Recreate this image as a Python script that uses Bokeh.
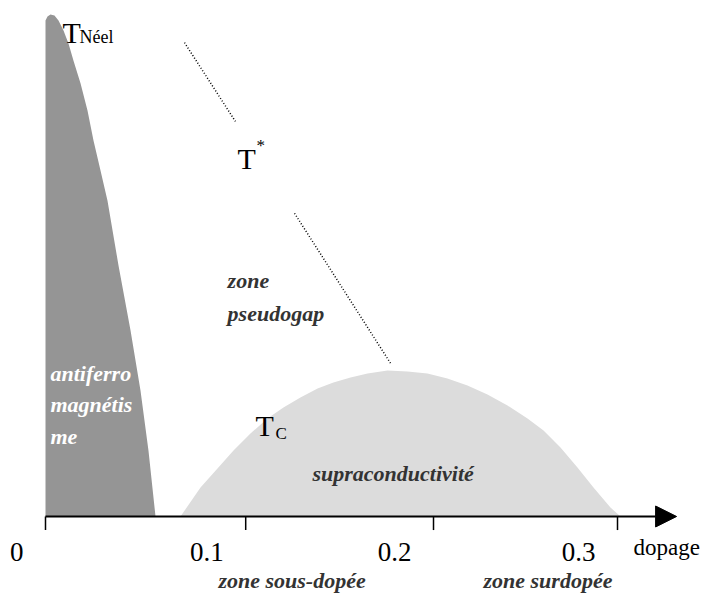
from bokeh.plotting import figure
from bokeh.models import Arrow, NormalHead
from bokeh.core.properties import value
from bokeh.embed import file_html
from bokeh.resources import INLINE

# --- data (x = dopage, y = temperature, relative units) ---
afm_x = [0, 0, 0.00105, 0.00262, 0.0047, 0.00682, 0.00944, 0.01206, 0.01469, 0.01836,
         0.02203, 0.02517, 0.02885, 0.03252, 0.03829, 0.04458, 0.04982, 0.05402, 0.0577]
afm_y = [0, 0.988, 0.996, 1.0, 0.998, 0.988, 0.968, 0.942, 0.908, 0.863,
         0.809, 0.749, 0.689, 0.629, 0.500, 0.371, 0.251, 0.131, 0]

sc_x = [0.0708, 0.0813, 0.0902, 0.0986, 0.1075, 0.1164, 0.1248, 0.1337, 0.1427, 0.1510,
        0.1600, 0.1689, 0.1794, 0.1899, 0.2003, 0.2108, 0.2213, 0.2318, 0.2423, 0.2528,
        0.2612, 0.2701, 0.2790, 0.2874, 0.2963, 0.3016]
sc_y = [0, 0.0578, 0.0956, 0.1315, 0.1653, 0.1952, 0.2171, 0.2371, 0.2550, 0.2669,
        0.2769, 0.2849, 0.2908, 0.2888, 0.2849, 0.2749, 0.2610, 0.2430, 0.2211, 0.1952,
        0.1713, 0.1375, 0.0976, 0.0578, 0.0179, 0]

tstar_x0 = [0.0729, 0.1306]
tstar_y0 = [0.944, 0.604]
tstar_x1 = [0.0996, 0.181]
tstar_y1 = [0.787, 0.305]

tick_positions = [0, 0.105, 0.2035, 0.3]
tick_labels = ["0", "0.1", "0.2", "0.3"]
axis_end = 0.331

afm_lines = ["antiferro", "magnétis", "me"]
afm_line_y = [0.2849, 0.2231, 0.1594]

SERIF = value("'Liberation Serif', serif")
DARK = "#959595"
LIGHT = "#dcdcdc"
TXT = "#333333"

p = figure(width=707, height=594, x_range=(-0.023601, 0.347202),
           y_range=(-0.15538, 1.02789), output_backend="svg",
           toolbar_location=None, min_border=0)
p.axis.visible = False
p.grid.visible = False
p.outline_line_color = None
p.background_fill_color = "white"
p.border_fill_color = "white"

# regions
p.patch(afm_x, afm_y, fill_color=DARK, line_color=None)
p.patch(sc_x, sc_y, fill_color=LIGHT, line_color=None)

# T* dotted line
p.segment(x0=tstar_x0, y0=tstar_y0, x1=tstar_x1, y1=tstar_y1,
          line_color="black", line_width=1.5, line_dash="1 2")

# x axis with arrow
p.add_layout(Arrow(x_start=0, y_start=0, x_end=axis_end, y_end=0,
                   line_color="black", line_width=2,
                   end=NormalHead(size=21, fill_color="black", line_color="black")))
p.segment(x0=tick_positions, y0=[0] * 4, x1=tick_positions, y1=[-0.027] * 4,
          line_color="black", line_width=1.5)
p.text(x=tick_positions, y=[-0.0717] * 4, text=tick_labels, text_align="right",
       text_baseline="alphabetic", x_offset=-22, text_font=SERIF,
       text_font_size="27px", text_color="black")
p.text(x=[0.3084], y=[-0.0618], text=["dopage"], text_baseline="alphabetic",
       text_font=SERIF, text_font_size="23px", text_color="black")

# T labels
def tlabel(x, y, main, sub, sx, sy, size_sub):
    p.text(x=[x], y=[y], text=[main], text_baseline="alphabetic", text_font=SERIF,
           text_font_size="30px", text_color="black")
    p.text(x=[sx], y=[sy], text=[sub], text_baseline="alphabetic", text_font=SERIF,
           text_font_size=size_sub, text_color="black")

tlabel(0.00892, 0.9641, "T", "Néel", 0.01783, 0.9542, "18px")
tlabel(0.1007, 0.7131, "T", "*", 0.1107, 0.739, "17px")
tlabel(0.1101, 0.1813, "T", "C", 0.1206, 0.1653, "17px")

# italic zone labels
def ilabel(xs, ys, texts, color):
    p.text(x=xs, y=ys, text=texts, text_baseline="alphabetic", text_font=SERIF,
           text_font_style="bold italic", text_font_size="22px", text_color=color)

ilabel([0.0955, 0.0955], [0.4701, 0.4044], ["zone", "pseudogap"], TXT)
ilabel([0.1400], [0.0857], ["supraconductivité"], TXT)
ilabel([0.0907, 0.2297], [-0.1275, -0.1275], ["zone sous-dopée", "zone surdopée"], TXT)
ilabel([0.00262] * 3, afm_line_y, afm_lines, "white")

open("out.html", "w").write(file_html(p, INLINE))
